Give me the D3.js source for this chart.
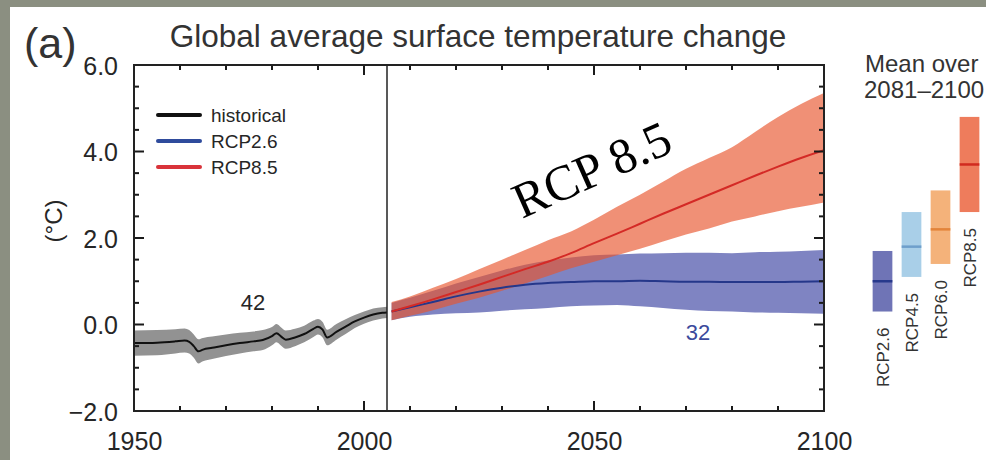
<!DOCTYPE html>
<html>
<head>
<meta charset="utf-8">
<script src="https://cdn.jsdelivr.net/npm/d3@7"></script>
<style>
  html, body { margin: 0; padding: 0; background: #8b8f81; }
  svg { display: block; }
  text { font-family: "Liberation Sans", Arial, Helvetica, sans-serif; fill: #262626; }
</style>
</head>
<body>
<svg id="chart" width="986" height="460"></svg>
<script>
// Historical simulations, 1950-2005 (ensemble mean and spread, °C)
const histYears = [1950, 1955, 1959, 1961, 1962, 1963, 1964, 1965, 1967, 1970, 1973, 1976, 1978, 1980, 1981, 1982, 1983, 1985, 1987, 1989, 1990, 1991, 1992, 1994, 1996, 1998, 2000, 2002, 2004, 2005];
const histMean  = [-0.43, -0.42, -0.39, -0.37, -0.40, -0.50, -0.62, -0.58, -0.54, -0.48, -0.43, -0.39, -0.36, -0.27, -0.20, -0.28, -0.35, -0.30, -0.22, -0.10, -0.05, -0.12, -0.30, -0.17, -0.05, 0.07, 0.16, 0.23, 0.27, 0.28];
const histUpper = [-0.14, -0.13, -0.11, -0.09, -0.13, -0.23, -0.34, -0.31, -0.28, -0.23, -0.19, -0.16, -0.13, -0.06, 0.01, -0.07, -0.14, -0.10, -0.03, 0.09, 0.13, 0.06, -0.12, 0.01, 0.12, 0.22, 0.30, 0.37, 0.40, 0.41];
const histLower = [-0.72, -0.71, -0.67, -0.65, -0.67, -0.77, -0.90, -0.85, -0.80, -0.73, -0.67, -0.62, -0.59, -0.48, -0.41, -0.49, -0.56, -0.50, -0.41, -0.29, -0.23, -0.30, -0.48, -0.35, -0.22, -0.08, 0.02, 0.09, 0.14, 0.15];

// Scenario projections, 2006-2100
const projYears = [2006, 2010, 2015, 2020, 2025, 2030, 2035, 2040, 2045, 2050, 2055, 2060, 2065, 2070, 2075, 2080, 2085, 2090, 2095, 2100];
const rcp85Mean  = [0.30, 0.42, 0.58, 0.75, 0.92, 1.10, 1.28, 1.45, 1.65, 1.88, 2.10, 2.33, 2.56, 2.78, 3.00, 3.22, 3.44, 3.65, 3.85, 4.03];
const rcp85Upper = [0.52, 0.65, 0.85, 1.05, 1.28, 1.50, 1.72, 1.95, 2.15, 2.42, 2.72, 3.00, 3.30, 3.60, 3.85, 4.10, 4.45, 4.80, 5.10, 5.35];
const rcp85Lower = [0.10, 0.20, 0.33, 0.48, 0.62, 0.78, 0.95, 1.12, 1.30, 1.45, 1.60, 1.75, 1.92, 2.08, 2.22, 2.38, 2.50, 2.62, 2.72, 2.82];
const rcp26Mean  = [0.30, 0.40, 0.52, 0.65, 0.76, 0.85, 0.92, 0.96, 0.98, 1.00, 1.00, 1.01, 1.00, 0.99, 0.99, 0.98, 0.98, 0.98, 0.99, 1.00];
const rcp26Upper = [0.50, 0.62, 0.78, 0.95, 1.10, 1.25, 1.38, 1.48, 1.55, 1.60, 1.62, 1.64, 1.65, 1.66, 1.66, 1.65, 1.67, 1.68, 1.70, 1.72];
const rcp26Lower = [0.10, 0.18, 0.23, 0.26, 0.28, 0.32, 0.35, 0.38, 0.42, 0.44, 0.45, 0.42, 0.38, 0.34, 0.31, 0.30, 0.28, 0.27, 0.26, 0.25];

// Mean over 2081-2100 with likely range
const barScenarios = ["RCP2.6", "RCP4.5", "RCP6.0", "RCP8.5"];
const barMean = [1.0, 1.8, 2.2, 3.7];
const barLow  = [0.3, 1.1, 1.4, 2.6];
const barHigh = [1.7, 2.6, 3.1, 4.8];

const yMajorTicks = [-2, 0, 2, 4, 6];
const xMajorTicks = [1950, 2000, 2050, 2100];
const modelCountHist = "42";
const modelCount26 = "32";

const svg = d3.select("#chart");

// white panel
svg.append("rect").attr("x", 10).attr("y", 7).attr("width", 976).attr("height", 453).attr("fill", "#ffffff");

const plotLeft = 134, plotRight = 824, plotTop = 65, plotBottom = 411;
const x = d3.scaleLinear().domain([1950, 2100]).range([plotLeft, plotRight]);
const y = d3.scaleLinear().domain([-2, 6]).range([plotBottom, plotTop]);

const defs = svg.append("defs");
defs.append("clipPath").attr("id", "plotClip")
  .append("rect").attr("x", plotLeft).attr("y", plotTop)
  .attr("width", plotRight - plotLeft).attr("height", plotBottom - plotTop);

const plot = svg.append("g").attr("clip-path", "url(#plotClip)");

const band = (years, lo, hi) => d3.area()
  .x((d, i) => x(years[i])).y0((d, i) => y(lo[i])).y1((d, i) => y(hi[i]))
  .curve(d3.curveMonotoneX)(years);
const line = (years, vals) => d3.line()
  .x((d, i) => x(years[i])).y((d, i) => y(vals[i]))
  .curve(d3.curveMonotoneX)(years);

// spread bands: RCP2.6 underneath, translucent RCP8.5 over it
plot.append("path").attr("d", band(histYears, histLower, histUpper)).attr("fill", "#929292");
plot.append("path").attr("d", band(projYears, rcp26Lower, rcp26Upper)).attr("fill", "#7f84c2");
plot.append("path").attr("d", band(projYears, rcp85Lower, rcp85Upper)).attr("fill", "rgb(232,85,45)").attr("opacity", 0.65);

// ensemble means
plot.append("path").attr("d", line(histYears, histMean)).attr("fill", "none").attr("stroke", "#111").attr("stroke-width", 2);
plot.append("path").attr("d", line(projYears, rcp26Mean)).attr("fill", "none").attr("stroke", "#25378a").attr("stroke-width", 2);
plot.append("path").attr("d", line(projYears, rcp85Mean)).attr("fill", "none").attr("stroke", "#d42a26").attr("stroke-width", 2);

// divide historical and projection periods
svg.append("line").attr("x1", x(2005)).attr("x2", x(2005)).attr("y1", plotTop).attr("y2", plotBottom)
  .attr("stroke", "#222").attr("stroke-width", 1.5);

// axis labels via d3 axes (no tick lines; inward ticks drawn below)
const fmt = d3.format(".1f");
const gx = svg.append("g").attr("transform", `translate(0,${plotBottom})`)
  .call(d3.axisBottom(x).tickValues(xMajorTicks).tickSize(0).tickFormat(d3.format("d")));
gx.select(".domain").remove();
gx.selectAll(".tick text").attr("y", 39).attr("dy", 0).style("font-size", "25px").style("fill", "#262626");

const gy = svg.append("g").attr("transform", `translate(${plotLeft},0)`)
  .call(d3.axisLeft(y).tickValues(yMajorTicks).tickSize(0).tickPadding(16).tickFormat(fmt));
gy.select(".domain").remove();
gy.selectAll(".tick text").attr("dy", "0.36em").style("font-size", "25px").style("fill", "#262626");

// inward tick marks on all four sides
const minorX = d3.range(1960, 2100, 10).filter(v => !xMajorTicks.includes(v));
const minorY = d3.range(-1.5, 6, 0.5).filter(v => !yMajorTicks.includes(v));
const ticks = svg.append("g").attr("stroke", "#1a1a1a").attr("stroke-width", 2);
const xTicks = xMajorTicks.map(v => ({ v, len: 10 })).concat(minorX.map(v => ({ v, len: 5 })));
const yTicks = yMajorTicks.map(v => ({ v, len: 10 })).concat(minorY.map(v => ({ v, len: 5 })));
xTicks.forEach(t => {
  ticks.append("line").attr("x1", x(t.v)).attr("x2", x(t.v)).attr("y1", plotBottom).attr("y2", plotBottom - t.len);
  ticks.append("line").attr("x1", x(t.v)).attr("x2", x(t.v)).attr("y1", plotTop).attr("y2", plotTop + t.len);
});
yTicks.forEach(t => {
  ticks.append("line").attr("x1", plotLeft).attr("x2", plotLeft + t.len).attr("y1", y(t.v)).attr("y2", y(t.v));
  ticks.append("line").attr("x1", plotRight).attr("x2", plotRight - t.len).attr("y1", y(t.v)).attr("y2", y(t.v));
});

// frame
svg.append("rect").attr("x", plotLeft).attr("y", plotTop)
  .attr("width", plotRight - plotLeft).attr("height", plotBottom - plotTop)
  .attr("fill", "none").attr("stroke", "#222").attr("stroke-width", 2);

// titles
svg.append("text").attr("x", 24).attr("y", 58).style("font-size", "43px").style("fill", "#333").text("(a)");
svg.append("text").attr("x", 478).attr("y", 47).attr("text-anchor", "middle")
  .style("font-size", "31.5px").style("fill", "#333").text("Global average surface temperature change");
svg.append("text").attr("transform", "translate(62,221) rotate(-90)").attr("text-anchor", "middle")
  .style("font-size", "24px").text("(°C)");

// legend
const legend = [
  { label: "historical", color: "#111" },
  { label: "RCP2.6", color: "#2f4b9c" },
  { label: "RCP8.5", color: "#d9333a" }
];
const lg = svg.append("g");
legend.forEach((d, i) => {
  const ly = 115 + i * 26;
  lg.append("line").attr("x1", 158).attr("x2", 200).attr("y1", ly).attr("y2", ly)
    .attr("stroke", d.color).attr("stroke-width", 4).attr("stroke-linecap", "round");
  lg.append("text").attr("x", 211).attr("y", ly + 7).style("font-size", "19px").text(d.label);
});

// model counts
svg.append("text").attr("x", 253).attr("y", 310).attr("text-anchor", "middle").style("font-size", "22px").text(modelCountHist);
svg.append("text").attr("x", 698).attr("y", 340).attr("text-anchor", "middle").style("font-size", "22px")
  .style("fill", "#3b4a9c").text(modelCount26);

// scenario annotation
svg.append("text").attr("transform", "translate(522,219) rotate(-24)")
  .style("font-family", "'Liberation Serif', 'Times New Roman', serif").style("font-size", "50px")
  .style("fill", "#000").text("RCP 8.5");

// side panel: mean over 2081-2100
svg.append("text").attr("x", 865).attr("y", 72).style("font-size", "24px").style("fill", "#333").text("Mean over");
svg.append("text").attr("x", 864).attr("y", 98).style("font-size", "24px").style("fill", "#333").text("2081–2100");

const xb = d3.scaleBand().domain(barScenarios).range([868, 984]).paddingInner(0.32).paddingOuter(0.16);
const barFill = ["#6f74b6", "#a9cfe8", "#f4b27a", "#ee7c5c"];
const barLine = ["#27398c", "#6e9fcb", "#e3843a", "#d12a1f"];
const bars = svg.append("g");
barScenarios.forEach((s, i) => {
  const bx = xb(s), bw = xb.bandwidth();
  bars.append("rect").attr("x", bx).attr("width", bw)
    .attr("y", y(barHigh[i])).attr("height", y(barLow[i]) - y(barHigh[i]))
    .attr("fill", barFill[i]);
  bars.append("line").attr("x1", bx).attr("x2", bx + bw).attr("y1", y(barMean[i])).attr("y2", y(barMean[i]))
    .attr("stroke", barLine[i]).attr("stroke-width", 2.5);
  bars.append("text")
    .attr("transform", `translate(${bx + bw / 2 + 6},${y(barLow[i]) + 16}) rotate(-90)`)
    .attr("text-anchor", "end").style("font-size", "17px").style("fill", "#333").text(s);
});
</script>
</body>
</html>
